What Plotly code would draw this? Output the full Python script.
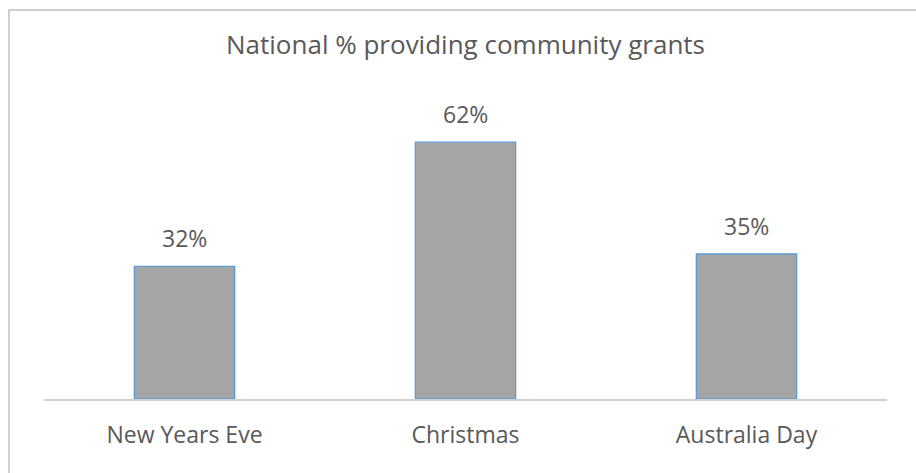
import plotly.graph_objects as go

categories = ["New Years Eve", "Christmas", "Australia Day"]
values = [32, 62, 35]
labels = ["32%", "62%", "35%"]
title_text = "National % providing community grants"

W, H = 916, 473
L, R, T, B = 44, 29, 109, 74
pw, ph = W - L - R, H - T - B
FONT = "Open Sans"
TXT = "#595959"

fig = go.Figure()
fig.add_trace(go.Bar(
    x=categories, y=values,
    marker=dict(color="#a5a5a5", line=dict(color="#5b9bd5", width=1.3)),
    width=0.357,
))

for c, v, t in zip(categories, values, labels):
    fig.add_annotation(x=c, y=v, text=t, showarrow=False, yanchor="middle",
                       yshift=28, font=dict(size=23, color=TXT, family=FONT))

def px_x(p):
    return (p - L) / pw

def px_y(p):
    return (H - B - p) / ph

# outer chart border: only left and top edges are visible in the frame
fig.add_shape(type="line", xref="paper", yref="paper",
              x0=px_x(9), x1=px_x(9), y0=px_y(H + 5), y1=px_y(9),
              line=dict(color="#d0d0d0", width=2), layer="below")
fig.add_shape(type="line", xref="paper", yref="paper",
              x0=px_x(8), x1=px_x(W + 5), y0=px_y(10), y1=px_y(10),
              line=dict(color="#d0d0d0", width=2), layer="below")

fig.update_layout(
    width=W, height=H,
    margin=dict(l=L, r=R, t=T, b=B),
    paper_bgcolor="white", plot_bgcolor="white",
    font=dict(family=FONT, color=TXT, size=23),
    title=dict(text=title_text, x=0.5, xref="paper", xanchor="center",
               y=1 - 45 / H, yanchor="middle", yref="container",
               font=dict(size=26, color=TXT, family=FONT)),
    showlegend=False,
    bargap=0.643,
    xaxis=dict(showline=True, linecolor="#d0d0d0", linewidth=2, ticks="",
               tickfont=dict(size=23, color=TXT, family=FONT), showgrid=False,
               ticklabelstandoff=14,
               zeroline=False, fixedrange=True),
    yaxis=dict(range=[0, 70], visible=False, showgrid=False, zeroline=False),
)

fig.write_html(
    "out.html",
    config={"displayModeBar": False},
    post_script="document.body.style.margin='0';document.body.style.overflow='hidden';",
)
